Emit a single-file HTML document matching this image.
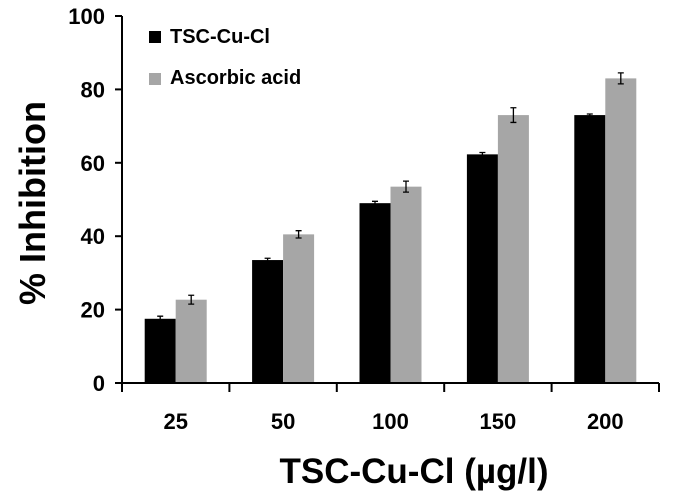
<!DOCTYPE html>
<html><head><meta charset="utf-8"><style>
body{margin:0;background:#fff;}
svg text{font-family:"Liberation Sans",Arial,sans-serif;font-weight:bold;}
</style></head><body>
<svg width="678" height="496">
<g id="plot"></g>
</svg>
<script>
const categories=["25","50","100","150","200"];
const seriesNames=["TSC-Cu-Cl","Ascorbic acid"];
const tscValues=[17.5,33.5,49,62.3,73];
const tscErrors=[0.7,0.5,0.5,0.5,0.3];
const ascValues=[22.7,40.5,53.5,73,83];
const ascErrors=[1.2,1,1.5,2,1.5];
const yTicks=[0,20,40,60,80,100];
const colors=["#000000","#a6a6a6"];
const NS="http://www.w3.org/2000/svg";
const g=document.getElementById('plot');
const x0=122,x1=659,y0=383,yTop=16;
const yS=v=>y0-(v/100)*(y0-yTop);
const bw=(x1-x0)/categories.length;
const xC=i=>x0+bw*(i+0.5);
function mk(t,a,p){const e=document.createElementNS(NS,t);for(const k in a)e.setAttribute(k,a[k]);(p||g).appendChild(e);return e;}
const barW=31;
[[tscValues,tscErrors],[ascValues,ascErrors]].forEach((s,si)=>{
 s[0].forEach((v,i)=>{
  const x=xC(i)-barW+si*barW;
  const r=mk('rect',{x:x,y:yS(v),width:barW,height:y0-yS(v),fill:colors[si]});
  
  
  const cx=x+barW/2,e=s[1][i];
  const eb=mk('path',{d:`M${cx},${yS(v+e)}V${yS(v-e)}M${cx-3},${yS(v+e)}H${cx+3}M${cx-3},${yS(v-e)}H${cx+3}`,stroke:'#000','stroke-width':1.3,fill:'none'});
  
  
 });
});
const ax=mk('path',{d:`M${x0},${yTop}V${y0}H${x1}`,stroke:'#000','stroke-width':2,fill:'none'});


yTicks.forEach(t=>{
 mk('line',{x1:x0-7,x2:x0,y1:yS(t),y2:yS(t),stroke:'#000','stroke-width':2});
 const tx=mk('text',{x:105,y:yS(t)+8,'text-anchor':'end','font-size':22});
 tx.textContent=t;
 
 
});
for(let i=0;i<=categories.length;i++){mk('line',{x1:x0+bw*i,x2:x0+bw*i,y1:y0,y2:y0+9,stroke:'#000','stroke-width':2});}
categories.forEach((c,i)=>{
 const tx=mk('text',{x:xC(i),y:429,'text-anchor':'middle','font-size':22});
 tx.textContent=c;
 
 
});
seriesNames.forEach((n,i)=>{
 const lg=mk('g',{});
 
 
 mk('rect',{x:149,y:31+i*42,width:12,height:12,fill:colors[i]},lg);
 const t=mk('text',{x:170,y:43+i*41,'font-size':20},lg);t.textContent=n;
});
const yt=mk('text',{x:0,y:0,'font-size':36,'text-anchor':'middle',transform:'translate(45,203) rotate(-90)'});
yt.textContent='% Inhibition';


const xt=mk('text',{x:414,y:483,'font-size':35,'text-anchor':'middle'});
xt.textContent='TSC-Cu-Cl (µg/l)';


</script>
</body></html>
